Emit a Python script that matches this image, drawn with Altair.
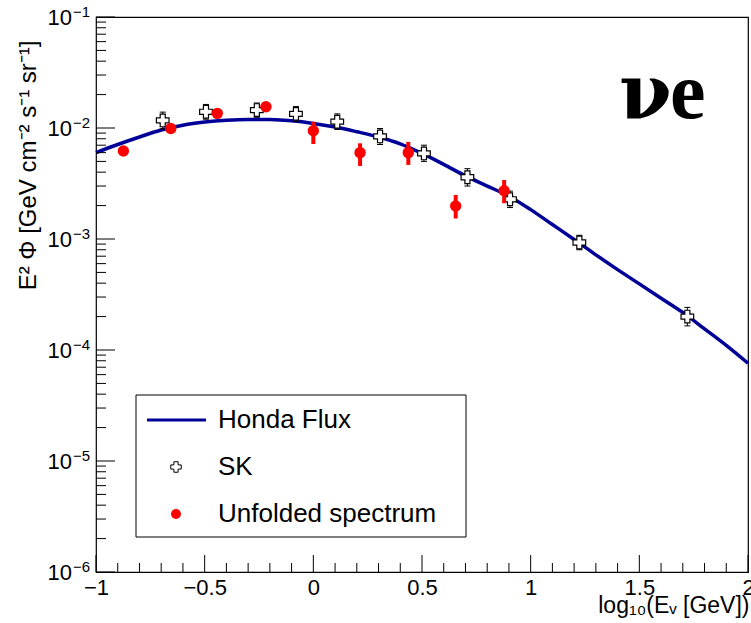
import altair as alt
import pandas as pd

# ---------------- data ----------------
honda_x = [-1.0, -0.9, -0.8, -0.7, -0.6, -0.5, -0.4, -0.3, -0.2, -0.1, 0.0,
           0.1, 0.2, 0.3, 0.4, 0.5, 0.6, 0.7, 0.8, 0.9, 1.0,
           1.1, 1.2, 1.3, 1.4, 1.5, 1.6, 1.7, 1.8, 1.9, 2.0]
honda_y = [6.0e-3, 7.1e-3, 8.3e-3, 9.6e-3, 1.06e-2, 1.13e-2, 1.175e-2, 1.195e-2, 1.19e-2, 1.16e-2, 1.10e-2,
           1.02e-2, 9.25e-3, 8.3e-3, 7.2e-3, 5.9e-3, 4.7e-3, 3.7e-3, 3.0e-3, 2.43e-3, 1.84e-3,
           1.35e-3, 9.9e-4, 7.2e-4, 5.3e-4, 3.94e-4, 2.93e-4, 2.18e-4, 1.55e-4, 1.10e-4, 7.6e-5]

sk_x = [-0.693, -0.494, -0.260, -0.080, 0.110, 0.307, 0.509, 0.709, 0.905, 1.224, 1.721]
sk_y = [0.0117, 0.0140, 0.0145, 0.0134, 0.0114, 0.0084, 0.0059, 0.0036, 0.00228, 0.00093, 0.000200]
sk_lo = [0.0098, 0.0120, 0.0125, 0.0115, 0.0097, 0.0071, 0.0050, 0.0030, 0.00192, 0.00080, 0.000165]
sk_hi = [0.0139, 0.0163, 0.0168, 0.0156, 0.0134, 0.0099, 0.0070, 0.0043, 0.00270, 0.00108, 0.000242]

uf_x = [-0.874, -0.656, -0.442, -0.218, 0.0, 0.215, 0.437, 0.655, 0.878]
uf_y = [0.0062, 0.0099, 0.01355, 0.01556, 0.00945, 0.0060, 0.0060, 0.00198, 0.00272]
uf_lo = [0.0057, 0.0092, 0.0127, 0.0146, 0.00718, 0.00455, 0.00465, 0.00153, 0.0021]
uf_hi = [0.0067, 0.0107, 0.0145, 0.0166, 0.0114, 0.00728, 0.0075, 0.00249, 0.0034]

x_major = [-1.0, -0.5, 0.0, 0.5, 1.0, 1.5, 2.0]
x_minor = [-0.9, -0.8, -0.7, -0.6, -0.4, -0.3, -0.2, -0.1, 0.1, 0.2, 0.3, 0.4,
           0.6, 0.7, 0.8, 0.9, 1.1, 1.2, 1.3, 1.4, 1.6, 1.7, 1.8, 1.9]
y_major = [1e-6, 1e-5, 1e-4, 1e-3, 1e-2, 1e-1]
y_exponents = ["\u22126", "\u22125", "\u22124", "\u22123", "\u22122", "\u22121"]
y_minor = [k * d for d in [1e-6, 1e-5, 1e-4, 1e-3, 1e-2] for k in range(2, 10)]

legend_labels = ["Honda Flux", "SK", "Unfolded spectrum"]
flavour_nu = "\u03bd"
flavour_e = "e"

W, H = 652, 555
FONT = "Liberation Sans"

xs = alt.Scale(domain=[-1, 2], nice=False, zero=False)
ys = alt.Scale(type="log", domain=[1e-6, 1e-1], nice=False)

honda = pd.DataFrame({"x": honda_x, "y": honda_y})
sk = pd.DataFrame({"x": sk_x, "y": sk_y, "lo": sk_lo, "hi": sk_hi})
uf = pd.DataFrame({"x": uf_x, "y": uf_y, "lo": uf_lo, "hi": uf_hi})

x_axis = alt.Axis(values=x_major, ticks=False, grid=False, domain=False,
                  labelExpr="replace(format(datum.value, '~g'), '-', '\u2212')",
                  labelFont=FONT, labelFontSize=22, labelColor="black", labelPadding=5,
                  labelFlush=False,
                  title="log\u2081\u2080(E\u1d65 [GeV])", titleFont=FONT, titleFontSize=23,
                  titleFontWeight="normal", titleColor="black",
                  titleAnchor="end", titleAlign="right", titleBaseline="alphabetic",
                  titleX=W + 1, titleY=40)
y_axis = alt.Axis(labels=False, ticks=False, grid=False, domain=False,
                  title="E\u00b2 \u03a6 [GeV cm\u207b\u00b2 s\u207b\u00b9 sr\u207b\u00b9]",
                  titleFont=FONT, titleFontSize=24, titleFontWeight="normal", titleColor="black",
                  titleAngle=-90, titleAlign="right", titleBaseline="alphabetic",
                  titleX=-61, titleY=23)

line = alt.Chart(honda).mark_line(color="#000099", strokeWidth=3.5, interpolate="monotone").encode(
    x=alt.X("x:Q", scale=xs, axis=x_axis),
    y=alt.Y("y:Q", scale=ys, axis=y_axis),
)

sk_bar = alt.Chart(sk).mark_rule(color="black", strokeWidth=1).encode(
    x=alt.X("x:Q", scale=xs), y=alt.Y("lo:Q", scale=ys), y2="hi:Q")
sk_cap_lo = alt.Chart(sk).mark_rule(color="black", strokeWidth=1, xOffset=-3, x2Offset=3).encode(
    x=alt.X("x:Q", scale=xs), x2="x:Q", y=alt.Y("lo:Q", scale=ys))
sk_cap_hi = alt.Chart(sk).mark_rule(color="black", strokeWidth=1, xOffset=-3, x2Offset=3).encode(
    x=alt.X("x:Q", scale=xs), x2="x:Q", y=alt.Y("hi:Q", scale=ys))
sk_pts = alt.Chart(sk).mark_point(shape="cross", filled=True, fill="white", stroke="black",
                                  strokeWidth=1.2, size=160, opacity=1).encode(
    x=alt.X("x:Q", scale=xs), y=alt.Y("y:Q", scale=ys))

uf_bar = alt.Chart(uf).mark_rule(color="#ff0000", strokeWidth=4).encode(
    x=alt.X("x:Q", scale=xs), y=alt.Y("lo:Q", scale=ys), y2="hi:Q")
uf_pts = alt.Chart(uf).mark_circle(color="#ff0000", size=130, opacity=1).encode(
    x=alt.X("x:Q", scale=xs), y=alt.Y("y:Q", scale=ys))

# ---------- inside ticks (ROOT style) ----------
ymaj_df = pd.DataFrame({"v": y_major, "e": y_exponents})
ymin_df = pd.DataFrame({"v": y_minor})
xmaj_df = pd.DataFrame({"v": x_major})
xmin_df = pd.DataFrame({"v": x_minor})

tick_y_major = alt.Chart(ymaj_df).mark_rule(color="black", strokeWidth=1).encode(
    y=alt.Y("v:Q", scale=ys), x=alt.value(0), x2=alt.value(19))
tick_y_minor = alt.Chart(ymin_df).mark_rule(color="black", strokeWidth=1).encode(
    y=alt.Y("v:Q", scale=ys), x=alt.value(0), x2=alt.value(10))
tick_x_major = alt.Chart(xmaj_df).mark_rule(color="black", strokeWidth=1).encode(
    x=alt.X("v:Q", scale=xs), y=alt.value(H - 17), y2=alt.value(H))
tick_x_minor = alt.Chart(xmin_df).mark_rule(color="black", strokeWidth=1).encode(
    x=alt.X("v:Q", scale=xs), y=alt.value(H - 9), y2=alt.value(H))

# ---------- y tick labels 10^n ----------
ylab_base = alt.Chart(ymaj_df).mark_text(font=FONT, fontSize=22, align="right",
                                         baseline="alphabetic", dy=8, color="black").encode(
    y=alt.Y("v:Q", scale=ys), x=alt.value(-24), text=alt.value("10"))
ylab_exp = alt.Chart(ymaj_df).mark_text(font=FONT, fontSize=15, align="left",
                                        baseline="alphabetic", dy=0, color="black").encode(
    y=alt.Y("v:Q", scale=ys), x=alt.value(-23), text="e:N")

# ---------- legend ----------
leg_df = pd.DataFrame({"label": legend_labels})
leg_box = alt.Chart(leg_df.head(1)).mark_rect(fill="white", stroke="black", strokeWidth=1).encode(
    x=alt.value(40), x2=alt.value(370), y=alt.value(378), y2=alt.value(520))
leg_line = alt.Chart(leg_df.head(1)).mark_rule(color="#000099", strokeWidth=3).encode(
    x=alt.value(51), x2=alt.value(110), y=alt.value(403))
leg_cross = alt.Chart(leg_df.head(1)).mark_point(shape="cross", filled=True, fill="white",
                                                 stroke="black", strokeWidth=1, size=110,
                                                 opacity=1).encode(
    x=alt.value(80), y=alt.value(450))
leg_dot = alt.Chart(leg_df.head(1)).mark_circle(color="#ff0000", size=100, opacity=1).encode(
    x=alt.value(80), y=alt.value(497))
leg_texts = [
    alt.Chart(leg_df.iloc[[i]]).mark_text(font=FONT, fontSize=26, align="left",
                                          baseline="middle", color="black").encode(
        x=alt.value(122), y=alt.value(yy), text="label:N")
    for i, yy in enumerate([403, 450, 497])
]

flav_nu = alt.Chart(pd.DataFrame({"t": [flavour_nu]})).mark_text(
    font="DejaVu Serif", fontSize=76, fontWeight="bold", align="left",
    baseline="alphabetic", color="black").encode(
    x=alt.value(523), y=alt.value(101), text="t:N")
flav_e = alt.Chart(pd.DataFrame({"t": [flavour_e]})).mark_text(
    font="Liberation Serif", fontSize=80, fontWeight="bold", align="left",
    baseline="alphabetic", color="black").encode(
    x=alt.value(574), y=alt.value(101), text="t:N")

chart = alt.layer(
    line, tick_y_major, tick_y_minor, tick_x_major, tick_x_minor,
    sk_bar, sk_cap_lo, sk_cap_hi, sk_pts, uf_bar, uf_pts,
    ylab_base, ylab_exp,
    leg_box, leg_line, leg_cross, leg_dot, *leg_texts, flav_nu, flav_e,
).properties(
    width=W, height=H,
    padding={"left": 96, "top": 17, "right": 3, "bottom": 51},
    autosize="none",
    background="white",
).configure_view(stroke="black", strokeWidth=1.2)

chart.save("out.html", embed_options={"renderer": "svg", "actions": False})
